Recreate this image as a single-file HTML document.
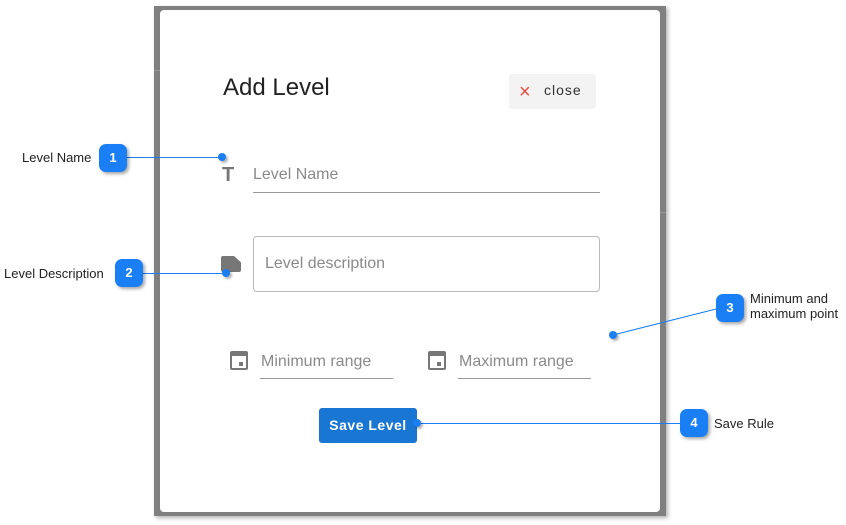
<!DOCTYPE html>
<html><head><style>
body{margin:0;width:846px;height:525px;background:#fff;position:relative;overflow:hidden;font-family:"Liberation Sans",Arial,sans-serif}
.a{position:absolute}
.badge{position:absolute;width:28px;height:28px;border-radius:7px;background:#1a7ff5;color:#fff;font-weight:bold;font-size:13px;text-align:center;line-height:28px;box-shadow:2px 2px 3px rgba(0,0,0,.35)}
.lbl{position:absolute;font-size:13px;color:#222}
.dot{position:absolute;width:8px;height:8px;border-radius:50%;background:#1a7ff5;box-shadow:2px 2px 2px rgba(0,0,0,.3)}
.ph{position:absolute;color:#8a8a8a;font-size:16px}
.ul{position:absolute;height:1px;background:#999}
.cal{position:absolute;width:18px;height:19px;border:2px solid #777;border-top-width:5px;border-radius:2px;box-sizing:border-box}
</style></head><body>
<div class="a" style="left:154px;top:6px;width:512px;height:510px;background:#808080;box-shadow:2px 2px 4px rgba(0,0,0,.3)"></div>
<div class="a" style="left:154px;top:70px;width:6px;height:1px;background:#999"></div>
<div class="a" style="left:660px;top:212px;width:6px;height:1px;background:#999"></div>
<div class="a" style="left:160px;top:10px;width:500px;height:502px;background:#fff;border-radius:4px"></div>
<div class="a" style="left:223px;top:74px;font-size:24px;color:#222">Add Level</div>
<div class="a" style="left:509px;top:74px;width:87px;height:35px;background:#f3f3f3;border-radius:3px"></div>
<div class="a" style="left:519px;top:81px;font-size:20px;color:#e74c3c">×</div>
<div class="a" style="left:544px;top:82px;font-size:14px;color:#333;letter-spacing:1px">close</div>
<div class="a" style="left:222px;top:164px;font-size:20px;font-weight:bold;color:#777">T</div>
<div class="ph" style="left:253px;top:166px">Level Name</div>
<div class="ul" style="left:253px;top:192px;width:347px"></div>
<div class="a" style="left:221px;top:256px;width:20px;height:16px;background:#777;border-radius:2px;clip-path:polygon(0 0,65% 0,100% 40%,100% 100%,0 100%)"></div>
<div class="a" style="left:253px;top:236px;width:345px;height:54px;border:1px solid #bbb;border-radius:4px"></div>
<div class="ph" style="left:265px;top:255px">Level description</div>
<div class="cal" style="left:230px;top:351px"></div>
<div class="a" style="left:239px;top:362px;width:4px;height:4px;background:#777"></div>
<div class="ph" style="left:261px;top:353px">Minimum range</div>
<div class="ul" style="left:260px;top:378px;width:133px"></div>
<div class="cal" style="left:428px;top:351px"></div>
<div class="a" style="left:437px;top:362px;width:4px;height:4px;background:#777"></div>
<div class="ph" style="left:459px;top:353px">Maximum range</div>
<div class="ul" style="left:458px;top:378px;width:133px"></div>
<div class="a" style="left:319px;top:408px;width:98px;height:35px;background:#1976d2;border-radius:3px;color:#fff;font-weight:bold;font-size:14px;text-align:center;line-height:35px;letter-spacing:.5px">Save Level</div>
<svg class="a" style="left:0;top:0" width="846" height="525">
<line x1="127" y1="157.5" x2="222" y2="157.5" stroke="#1a7ff5"/>
<line x1="143" y1="273.5" x2="226" y2="273.5" stroke="#1a7ff5"/>
<line x1="716" y1="309" x2="613" y2="335" stroke="#1a7ff5"/>
<line x1="418" y1="423.5" x2="680" y2="423.5" stroke="#1a7ff5"/>
</svg>
<div class="dot" style="left:218px;top:153px"></div>
<div class="dot" style="left:222px;top:269px"></div>
<div class="dot" style="left:609px;top:331px"></div>
<div class="dot" style="left:413px;top:419px"></div>
<div class="badge" style="left:99px;top:144px">1</div>
<div class="badge" style="left:115px;top:259px">2</div>
<div class="badge" style="left:716px;top:294px">3</div>
<div class="badge" style="left:680px;top:409px">4</div>
<div class="lbl" style="left:22px;top:150px">Level Name</div>
<div class="lbl" style="left:4px;top:266px">Level Description</div>
<div class="lbl" style="left:750px;top:291px;line-height:15px">Minimum and<br>maximum point</div>
<div class="lbl" style="left:714px;top:416px">Save Rule</div>
</body></html>
